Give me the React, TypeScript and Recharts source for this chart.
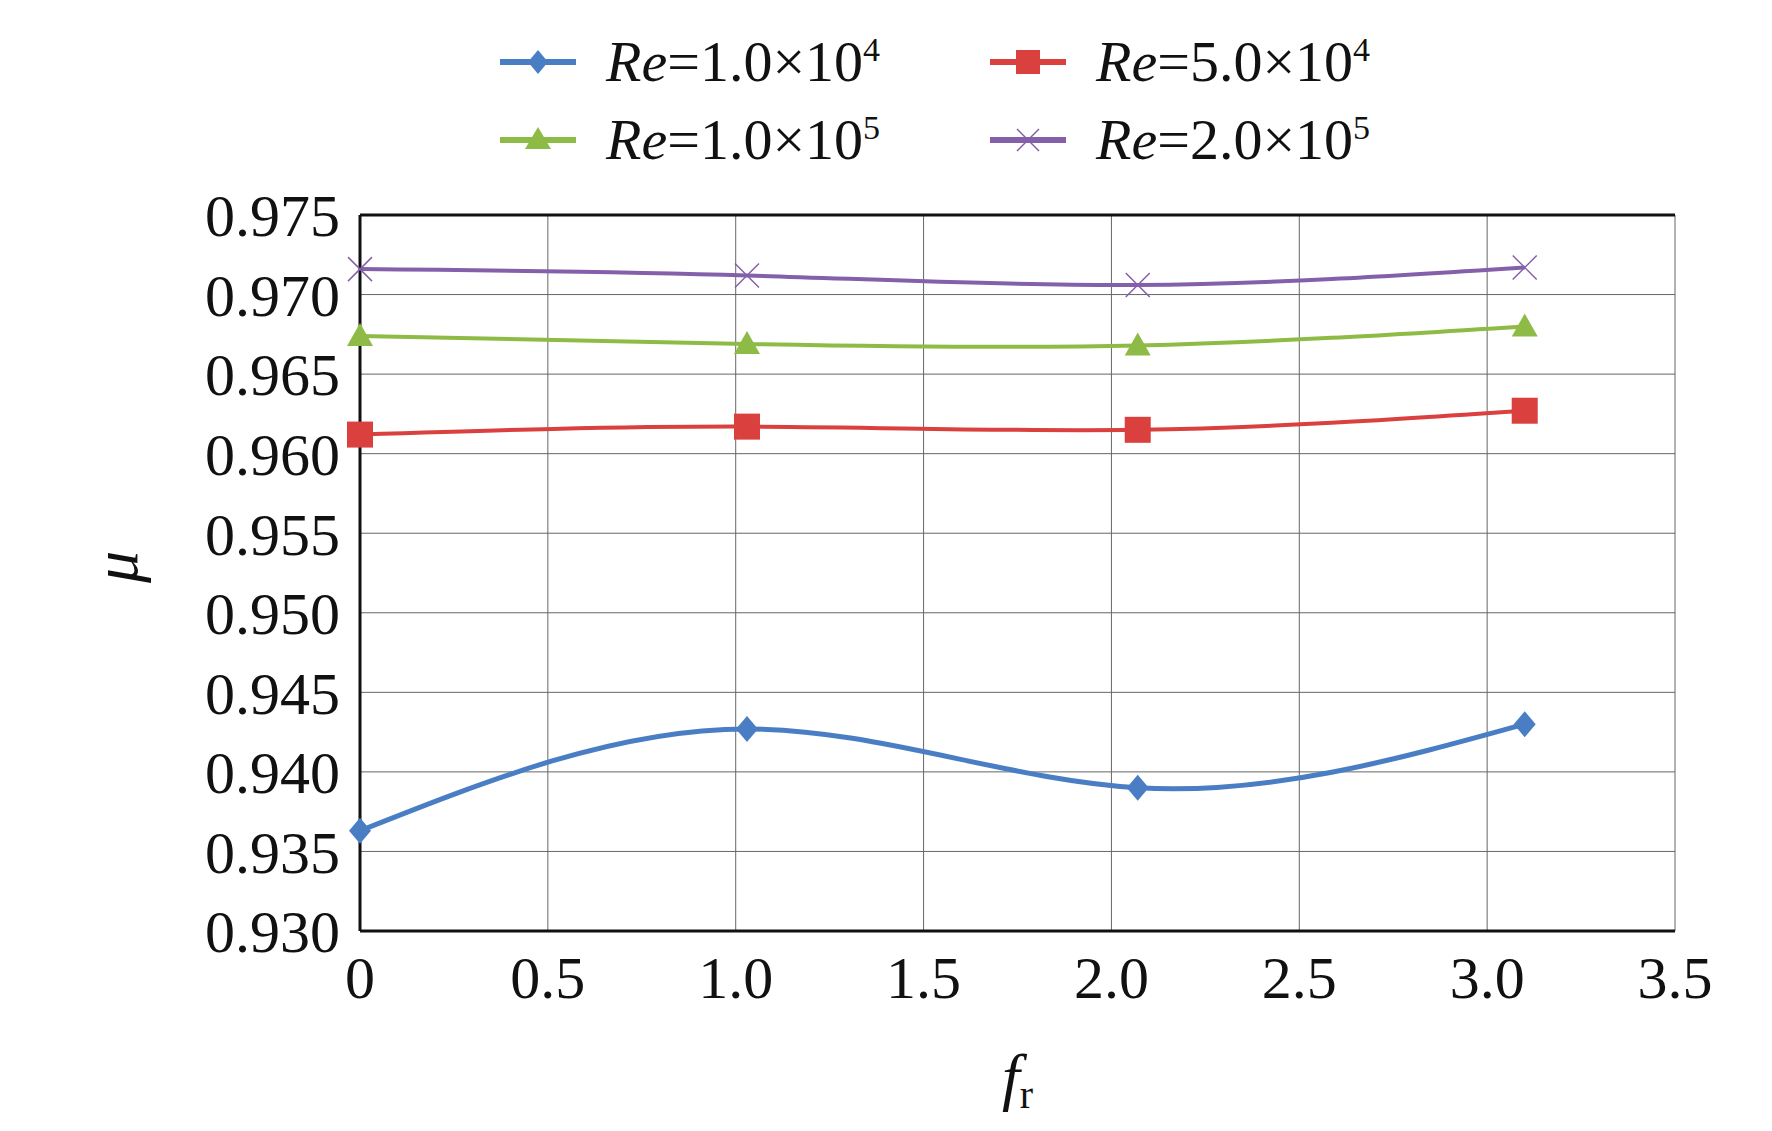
import React from "react";
import { ComposedChart, Line, CartesianGrid, XAxis, YAxis, Label } from "recharts";

const frValues = [0, 1.03, 2.07, 3.1];
const re1e4 = [0.9363, 0.9427, 0.939, 0.943];
const re5e4 = [0.9612, 0.9617, 0.9615, 0.9627];
const re1e5 = [0.9674, 0.9669, 0.9668, 0.968];
const re2e5 = [0.9716, 0.9712, 0.9706, 0.9717];
const xTicks = [0, 0.5, 1.0, 1.5, 2.0, 2.5, 3.0, 3.5];
const yTicks = [0.93, 0.935, 0.94, 0.945, 0.95, 0.955, 0.96, 0.965, 0.97, 0.975];

const data = frValues.map((fr, i) => ({ fr, a: re1e4[i], b: re5e4[i], c: re1e5[i], d: re2e5[i] }));

const FONT = "'Liberation Serif', 'Times New Roman', serif";

const Diamond = (p: any) => (
  <path d={`M${p.cx},${p.cy - 13}L${p.cx + 11},${p.cy}L${p.cx},${p.cy + 13}L${p.cx - 11},${p.cy}Z`} fill="#4a7ec4" />
);
const Square = (p: any) => <rect x={p.cx - 13} y={p.cy - 13} width={26} height={26} fill="#d9403e" />;
const Triangle = (p: any) => (
  <path d={`M${p.cx},${p.cy - 13}L${p.cx + 13},${p.cy + 10}L${p.cx - 13},${p.cy + 10}Z`} fill="#8dbb45" />
);
const Cross = (p: any) => (
  <path d={`M${p.cx - 12},${p.cy - 12}L${p.cx + 12},${p.cy + 12}M${p.cx + 12},${p.cy - 12}L${p.cx - 12},${p.cy + 12}`} stroke="#8560aa" strokeWidth={1.5} />
);

const legendItems = [
  { color: "#4a7ec4", base: "1.0", exp: "4", marker: "diamond", x: 500, y: 28 },
  { color: "#d9403e", base: "5.0", exp: "4", marker: "square", x: 990, y: 28 },
  { color: "#8dbb45", base: "1.0", exp: "5", marker: "triangle", x: 500, y: 106 },
  { color: "#8560aa", base: "2.0", exp: "5", marker: "cross", x: 990, y: 106 },
];

function LegendMarker({ color, marker }: { color: string; marker: string }) {
  const c = 38, m = 26;
  return (
    <svg width={76} height={52} style={{ verticalAlign: "middle" }}>
      <line x1={0} y1={m} x2={76} y2={m} stroke={color} strokeWidth={6} />
      {marker === "diamond" && <path d={`M${c},${m - 12}L${c + 10},${m}L${c},${m + 12}L${c - 10},${m}Z`} fill={color} />}
      {marker === "square" && <rect x={c - 12} y={m - 12} width={24} height={24} fill={color} />}
      {marker === "triangle" && <path d={`M${c},${m - 13}L${c + 13},${m + 9}L${c - 13},${m + 9}Z`} fill={color} />}
      {marker === "cross" && <path d={`M${c - 11},${m - 11}L${c + 11},${m + 11}M${c + 11},${m - 11}L${c - 11},${m + 11}`} stroke={color} strokeWidth={1.5} />}
    </svg>
  );
}

export default function App() {
  const tick = { fill: "#111", fontSize: 60, fontFamily: FONT };
  return (
    <div style={{ position: "relative", width: 1772, height: 1131, margin: -8, background: "#fff" }}>
      <ComposedChart width={1772} height={1131} data={data} margin={{ top: 185, right: 97, bottom: 170, left: 160 }}>
        <CartesianGrid stroke="#666" strokeWidth={1} />
        <XAxis dataKey="fr" type="number" domain={[0, 3.5]} ticks={xTicks} tickFormatter={(v) => (v === 0 ? "0" : v.toFixed(1))}
          tick={tick} tickLine={false} axisLine={{ stroke: "#111", strokeWidth: 3 }} tickMargin={18} interval={0} height={30}>
          <Label position="bottom" content={(props: any) => {
            const vb = props.viewBox;
            const x = vb.x + vb.width / 2;
            return (
              <text x={x} y={1098} fontFamily={FONT} fill="#111" textAnchor="middle">
                <tspan fontSize={64} fontStyle="italic">f</tspan>
                <tspan fontSize={40} dy={10}>r</tspan>
              </text>
            );
          }} />
        </XAxis>
        <XAxis xAxisId="top" orientation="top" dataKey="fr" type="number" domain={[0, 3.5]} tick={false} tickLine={false} axisLine={{ stroke: "#111", strokeWidth: 3 }} height={30} />
        <YAxis type="number" domain={[0.93, 0.975]} ticks={yTicks} tickFormatter={(v) => v.toFixed(3)} tick={tick}
          tickLine={false} axisLine={{ stroke: "#111", strokeWidth: 3 }} tickMargin={14} width={200} interval={0} />
        <YAxis yAxisId="right" orientation="right" domain={[0.93, 0.975]} tick={false} tickLine={false} axisLine={{ stroke: "#111", strokeWidth: 3 }} width={0} />
        <Line type="natural" dataKey="a" stroke="#4a7ec4" strokeWidth={5} dot={<Diamond />} isAnimationActive={false} />
        <Line type="natural" dataKey="b" stroke="#d9403e" strokeWidth={4} dot={<Square />} isAnimationActive={false} />
        <Line type="natural" dataKey="c" stroke="#8dbb45" strokeWidth={4} dot={<Triangle />} isAnimationActive={false} />
        <Line type="natural" dataKey="d" stroke="#8560aa" strokeWidth={4} dot={<Cross />} isAnimationActive={false} />
      </ComposedChart>
      <div style={{ position: "absolute", left: 100, top: 530, transform: "rotate(-90deg)", fontFamily: FONT, fontStyle: "italic", fontSize: 64, color: "#111" }}>μ</div>
      {legendItems.map((it, i) => (
        <div key={i} style={{ position: "absolute", left: it.x, top: it.y, fontFamily: FONT, fontSize: 58, color: "#111", whiteSpace: "nowrap", display: "flex", alignItems: "center" }}>
          <LegendMarker color={it.color} marker={it.marker} />
          <span style={{ marginLeft: 30 }}>
            <i>Re</i>={it.base}×10<sup style={{ fontSize: 34 }}>{it.exp}</sup>
          </span>
        </div>
      ))}
    </div>
  );
}
